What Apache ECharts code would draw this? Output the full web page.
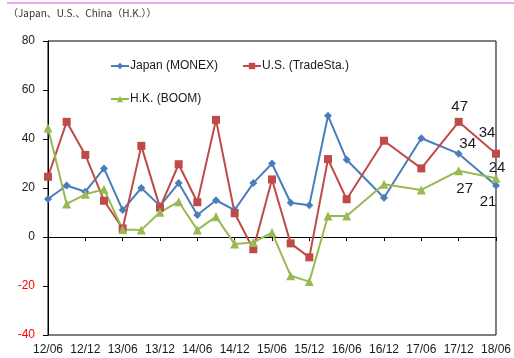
<!DOCTYPE html>
<html>
<head>
<meta charset="utf-8">
<script src="https://cdn.jsdelivr.net/npm/echarts@6/dist/echarts.min.js"></script>
<style>
  html, body { margin: 0; padding: 0; background: #fff; }
  #chart { width: 514px; height: 358px; }
</style>
</head>
<body>
<div id="chart"></div>
<script>
// Quarterly periods (yy/mm); only every second one is labelled on the axis
const periods = [
  '12/06', '12/09', '12/12', '13/03', '13/06', '13/09', '13/12', '14/03',
  '14/06', '14/09', '14/12', '15/03', '15/06', '15/09', '15/12', '16/03',
  '16/06', '16/09', '16/12', '17/03', '17/06', '17/09', '17/12', '18/03', '18/06'
];

// Survey index by market; after 16/06 the survey is half-yearly (null = no survey)
const japanMonex = [
  15.5, 21, 18.5, 28, 11, 20, 12.7, 22, 9, 15, 11, 22, 30, 14, 13, 49.5,
  31.5, null, 16, null, 40.3, null, 34, null, 21
];
const usTradeSta = [
  24.6, 47, 33.5, 14.8, 3.5, 37.2, 12, 29.7, 14.2, 47.8, 9.7, -5, 23.5, -2.6, -8.3, 31.8,
  15.4, null, 39.3, null, 28, null, 47, null, 34
];
const hkBoom = [
  44.5, 13.5, 17.4, 19.5, 3.1, 2.9, 10.1, 14.4, 2.9, 8.3, -2.9, -2.2, 1.8, -15.8, -18.2, 8.6,
  8.6, null, 21.5, null, 19.2, null, 27, null, 24
];

// Value labels shown on the latest points: [index, dx, dy]
const japanLabels = [[22, 9, -10], [24, -8, 16]];
const usLabels = [[22, 1, -15], [24, -9, -21]];
const hkLabels = [[22, 6, 18], [24, 1, -10]];

const yTicks = { min: -40, max: 80, step: 20 };
const fontFamily = '"Liberation Sans", Arial, sans-serif';

function withLabels(values, labels) {
  return values.map((v, i) => {
    const hit = labels.find(l => l[0] === i);
    if (!hit || v === null) return v;
    return {
      value: v,
      label: {
        show: true,
        position: 'inside',
        offset: [hit[1], hit[2]],
        formatter: String(Math.round(v)),
        color: '#1a1a1a',
        fontSize: 15,
        fontFamily: fontFamily
      }
    };
  });
}

const chart = echarts.init(document.getElementById('chart'), null, { renderer: 'canvas' });

function lineSeries(name, values, labels, color, symbol, size) {
  return {
    name: name,
    type: 'line',
    xAxisIndex: 0,
    data: withLabels(values, labels),
    connectNulls: true,
    symbol: symbol,
    symbolSize: size,
    itemStyle: { color: color },
    lineStyle: { color: color, width: 2 },
    emphasis: { disabled: true },
    animation: false
  };
}

const legendText = { fontSize: 12, color: '#1a1a1a', fontFamily: fontFamily, padding: [0, 0, 0, -4] };

chart.setOption({
  animation: false,
  textStyle: { fontFamily: fontFamily },
  graphic: [
    {
      type: 'line',
      shape: { x1: 7, y1: 3, x2: 514, y2: 3 },
      style: { stroke: '#f2a2ef', lineWidth: 2 }
    },
    {
      type: 'text',
      left: 8,
      top: 8,
      style: {
        text: '（Japan、U.S.、China（H.K.））',
        fill: '#333',
        font: '10px "Noto Sans CJK JP", sans-serif'
      }
    }
  ],
  legend: [
    {
      data: ['Japan (MONEX)', 'U.S. (TradeSta.)'],
      left: 110,
      top: 60,
      padding: 0,
      itemWidth: 18,
      itemHeight: 8,
      itemGap: 24,
      textStyle: legendText
    },
    {
      data: ['H.K. (BOOM)'],
      left: 110,
      top: 93,
      padding: 0,
      itemWidth: 18,
      itemHeight: 8,
      textStyle: legendText
    }
  ],
  grid: {
    left: 48,
    right: 12,
    top: 41,
    bottom: 23,
    show: true,
    borderColor: '#000',
    borderWidth: 1,
    backgroundColor: 'transparent'
  },
  xAxis: [
    {
      type: 'category',
      data: periods,
      boundaryGap: false,
      axisLine: { onZero: true, lineStyle: { color: '#000', width: 1 } },
      axisTick: { show: true, interval: 1, length: 4, lineStyle: { color: '#000' } },
      axisLabel: { show: false },
      splitLine: { show: false }
    },
    {
      type: 'category',
      data: periods,
      boundaryGap: false,
      position: 'bottom',
      axisLine: { show: false, onZero: false },
      axisTick: { show: false },
      axisLabel: {
        show: true,
        interval: 1,
        margin: 9,
        fontSize: 12,
        color: '#1a1a1a',
        fontFamily: fontFamily
      },
      splitLine: { show: false }
    }
  ],
  yAxis: {
    type: 'value',
    min: yTicks.min,
    max: yTicks.max,
    interval: yTicks.step,
    axisLine: { show: true, lineStyle: { color: '#000', width: 1 } },
    axisTick: { show: true, length: 5, lineStyle: { color: '#000' } },
    axisLabel: {
      margin: 13,
      fontSize: 12,
      fontFamily: fontFamily,
      color: v => (v < 0 ? '#ff0000' : '#1a1a1a')
    },
    splitLine: { show: false }
  },
  series: [
    lineSeries('Japan (MONEX)', japanMonex, japanLabels, '#4a7ebb', 'diamond', 8),
    lineSeries('U.S. (TradeSta.)', usTradeSta, usLabels, '#be4b48', 'rect', 8),
    lineSeries('H.K. (BOOM)', hkBoom, hkLabels, '#98b954', 'triangle', 9)
  ]
});
</script>
</body>
</html>
